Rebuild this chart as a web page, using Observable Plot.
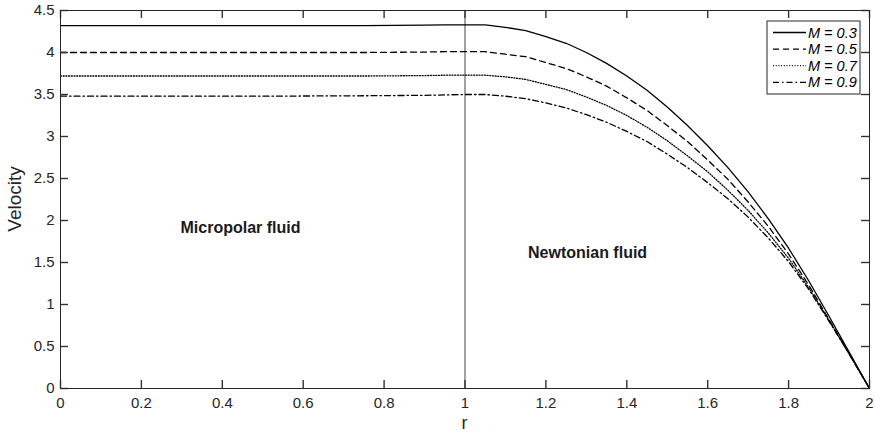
<!DOCTYPE html>
<html><head><meta charset="utf-8">
<script src="https://cdn.jsdelivr.net/npm/d3@7"></script>
<script src="https://cdn.jsdelivr.net/npm/@observablehq/plot@0.6"></script>
<style>body{margin:0;background:#fff} #chart{width:875px;height:434px}</style>
</head><body><div id="chart"></div>
<script>
// ---- data ----
const seriesM = ["0.3", "0.5", "0.7", "0.9"];
const rMicro = [0, 0.25, 0.5, 0.75, 0.9, 0.95];
const micro03 = [4.32, 4.32, 4.32, 4.32, 4.325, 4.33];
const micro05 = [4.00, 4.00, 4.00, 4.00, 4.005, 4.01];
const micro07 = [3.72, 3.72, 3.72, 3.72, 3.725, 3.73];
const micro09 = [3.48, 3.48, 3.48, 3.485, 3.49, 3.495];
const rNewt = [1.0, 1.05, 1.1, 1.15, 1.2, 1.25, 1.3, 1.35, 1.4, 1.45, 1.5, 1.55, 1.6, 1.65, 1.7, 1.75, 1.8, 1.85, 1.9, 1.95, 2.0];
const newt03 = [4.33, 4.33, 4.30, 4.26, 4.19, 4.11, 4.00, 3.87, 3.72, 3.55, 3.35, 3.13, 2.89, 2.63, 2.34, 2.02, 1.67, 1.28, 0.86, 0.43, 0];
const newt05 = [4.01, 4.01, 3.98, 3.95, 3.88, 3.81, 3.71, 3.60, 3.46, 3.31, 3.13, 2.94, 2.72, 2.49, 2.22, 1.93, 1.60, 1.23, 0.82, 0.41, 0];
const newt07 = [3.73, 3.73, 3.71, 3.68, 3.62, 3.56, 3.47, 3.37, 3.25, 3.11, 2.95, 2.77, 2.58, 2.36, 2.12, 1.85, 1.55, 1.20, 0.81, 0.41, 0];
const newt09 = [3.50, 3.50, 3.48, 3.45, 3.40, 3.34, 3.26, 3.17, 3.06, 2.94, 2.79, 2.63, 2.45, 2.26, 2.04, 1.79, 1.51, 1.18, 0.80, 0.41, 0];
const interfaceR = [1];
const xTicks = [0, 0.2, 0.4, 0.6, 0.8, 1, 1.2, 1.4, 1.6, 1.8, 2];
const yTicks = [0, 0.5, 1, 1.5, 2, 2.5, 3, 3.5, 4, 4.5];
const regionText = ["Micropolar fluid", "Newtonian fluid"];
const regionR = [0.445, 1.303];
const regionV = [1.907, 1.62];
const xLabel = "r";
const yLabel = "Velocity";

// ---- build table ----
const micro = [micro03, micro05, micro07, micro09];
const newt = [newt03, newt05, newt07, newt09];
const rows = seriesM.map((m, k) =>
  rMicro.map((r, i) => ({r, v: micro[k][i], M: m}))
    .concat(rNewt.map((r, i) => ({r, v: newt[k][i], M: m}))));
const dashes = [null, "6,4", "1,1.7", "6,3,1.5,3"];
const regions = regionText.map((t, i) => ({t, r: regionR[i], v: regionV[i]}));
const axisColor = "#262626";

const W = 875, H = 434, mL = 60, mR = 6, mT = 10, mB = 46, T = 8;
const frameW = W - mL - mR, frameH = H - mT - mB;

const chart = Plot.plot({
  width: W, height: H,
  marginLeft: mL, marginRight: mR, marginTop: mT, marginBottom: mB,
  x: {domain: [0, 2]},
  y: {domain: [0, 4.5]},
  style: {fontFamily: "'Liberation Sans', Arial, sans-serif", fontSize: "15px", color: axisColor, background: "#fff"},
  marks: [
    Plot.ruleX(interfaceR, {x: d => d, stroke: "#444", strokeWidth: 1}),
    ...rows.map((data, k) => Plot.line(data, {x: "r", y: "v", stroke: "#000", strokeWidth: 1.3, strokeDasharray: dashes[k]})),
    Plot.text(regions, {x: "r", y: "v", text: "t", fontWeight: "bold", fontSize: 16, fill: "#1a1a1a"}),
    Plot.axisX({ticks: xTicks, tickSize: 0, tickPadding: 9, tickFormat: d => String(d), fontSize: 15, label: null}),
    Plot.axisY({ticks: yTicks, tickSize: 0, tickPadding: 6, tickFormat: d => String(d), fontSize: 15, label: null}),
    // inward tick marks on all four sides
    Plot.tickX(xTicks, {x: d => d, stroke: "#333", strokeWidth: 1.4, insetTop: frameH - T}),
    Plot.tickX(xTicks, {x: d => d, stroke: "#333", strokeWidth: 1.4, insetBottom: frameH - T}),
    Plot.tickY(yTicks, {y: d => d, stroke: "#333", strokeWidth: 1.4, insetRight: frameW - T}),
    Plot.tickY(yTicks, {y: d => d, stroke: "#333", strokeWidth: 1.4, insetLeft: frameW - T}),
    Plot.frame({stroke: axisColor, strokeWidth: 1})
  ]
});
document.getElementById("chart").appendChild(chart);

const svg = d3.select(chart);
// axis titles
svg.append("text").attr("x", mL + frameW / 2).attr("y", 429).attr("text-anchor", "middle")
  .attr("font-size", 18).attr("fill", axisColor).text(xLabel);
svg.append("text").attr("transform", `translate(21,${mT + frameH / 2}) rotate(-90)`).attr("text-anchor", "middle")
  .attr("font-size", 19).attr("fill", axisColor).text(yLabel);
// legend
const lg = svg.append("g").attr("text-anchor", "start");
lg.append("rect").attr("x", 767).attr("y", 21).attr("width", 93).attr("height", 73)
  .attr("fill", "#fff").attr("stroke", axisColor).attr("stroke-width", 1);
seriesM.forEach((m, k) => {
  const y = 32.5 + k * 16.6;
  lg.append("line").attr("x1", 773).attr("x2", 806).attr("y1", y).attr("y2", y)
    .attr("stroke", "#000").attr("stroke-width", 1.3).attr("stroke-dasharray", dashes[k]);
  lg.append("text").attr("x", 808).attr("y", y).attr("dy", "0.35em").attr("font-size", 14.5)
    .attr("text-anchor", "start").attr("font-style", "italic").attr("fill", "#000").text(`M = ${m}`);
});
</script>
</body></html>
